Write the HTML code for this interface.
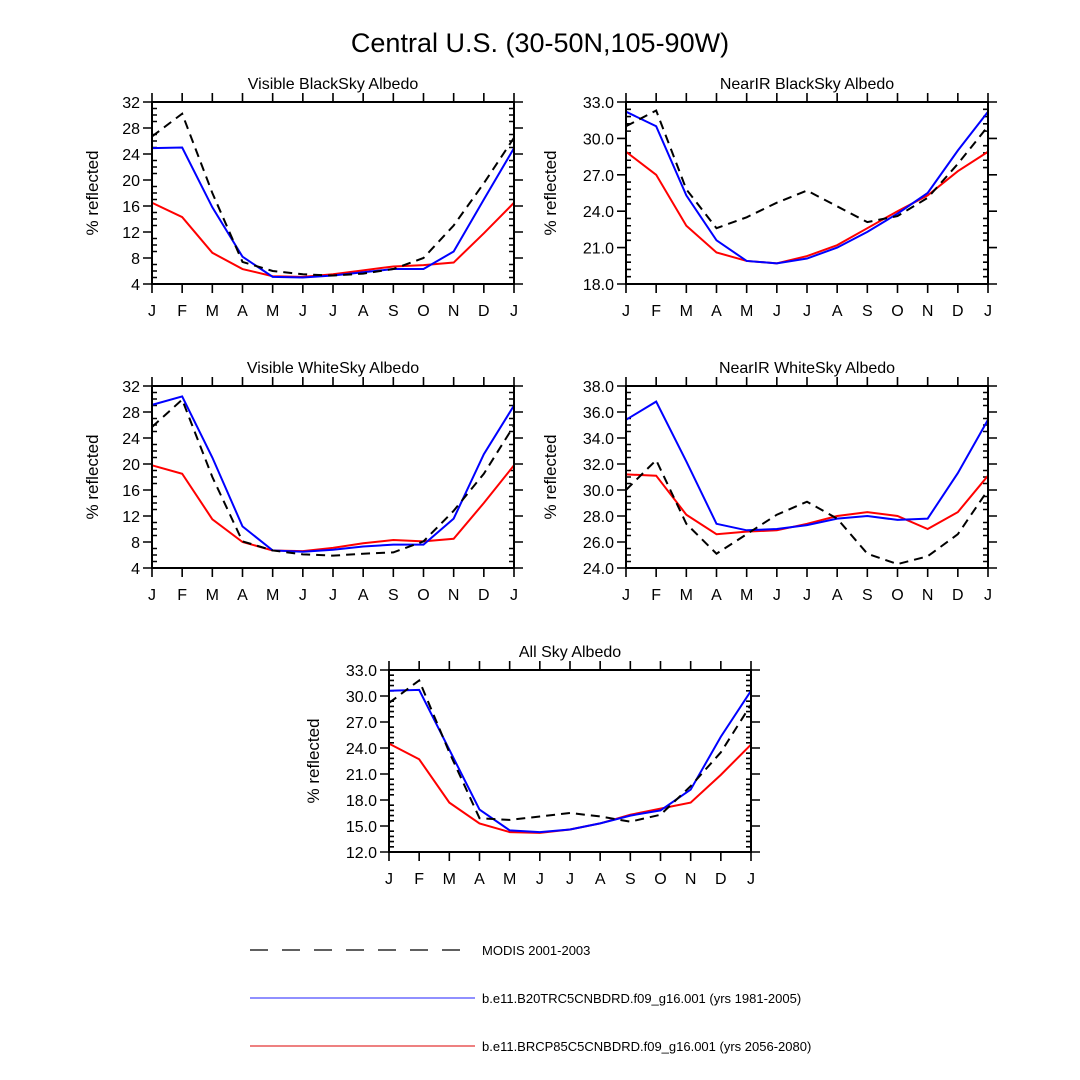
<!DOCTYPE html>
<html><head><meta charset="utf-8"><style>
body{margin:0;background:#fff}
svg{display:block;font-family:"Liberation Sans",sans-serif}
</style></head><body>
<svg id="c" width="1080" height="1080" viewBox="0 0 1080 1080">
<rect width="1080" height="1080" fill="#fff"/>
<text x="540" y="52" font-size="27" text-anchor="middle">Central U.S. (30-50N,105-90W)</text>
<g>
<line x1="250" y1="950" x2="462" y2="950" stroke="#000" stroke-width="1.3" stroke-dasharray="18,14"/>
<text x="482" y="955" font-size="13">MODIS 2001-2003</text>
<line x1="250" y1="998" x2="475" y2="998" stroke="#6b6bff" stroke-width="1.5"/>
<text x="482" y="1003" font-size="13">b.e11.B20TRC5CNBDRD.f09_g16.001 (yrs 1981-2005)</text>
<line x1="250" y1="1046" x2="475" y2="1046" stroke="#d00" stroke-width="1"/>
<text x="482" y="1051" font-size="13">b.e11.BRCP85C5CNBDRD.f09_g16.001 (yrs 2056-2080)</text>
</g>
</svg>
<script>
const months = ["J","F","M","A","M","J","J","A","S","O","N","D","J"];
const visBlackModis = [26.7,30.2,18,7.4,6,5.5,5.3,5.6,6.3,8,13,19.5,26.5];
const visBlackB20 = [24.9,25,15.8,8.2,5.1,5.0,5.3,5.8,6.3,6.3,9,17,24.9];
const visBlackRcp = [16.5,14.3,8.8,6.3,5.2,5.1,5.5,6.1,6.7,6.9,7.3,11.8,16.5];
const nirBlackModis = [31.0,32.3,25.8,22.6,23.5,24.7,25.7,24.4,23.1,23.6,25.1,27.9,31.0];
const nirBlackB20 = [32.2,31.0,25.3,21.6,19.9,19.7,20.1,21.0,22.3,23.8,25.5,29.0,32.2];
const nirBlackRcp = [28.9,27.0,22.8,20.6,19.9,19.7,20.3,21.2,22.6,24.0,25.3,27.3,28.9];
const visWhiteModis = [25.7,29.9,18,8.1,6.7,6.1,5.9,6.2,6.4,8.1,12.8,18.5,25.9];
const visWhiteB20 = [29.1,30.4,21,10.4,6.7,6.5,6.8,7.3,7.6,7.6,11.6,21.5,29.0];
const visWhiteRcp = [19.8,18.5,11.5,8.0,6.7,6.6,7.1,7.8,8.3,8.1,8.5,14,19.8];
const nirWhiteModis = [30.0,32.3,27.4,25.1,26.6,28.1,29.1,27.8,25.1,24.3,24.9,26.6,30.0];
const nirWhiteB20 = [35.4,36.8,32.2,27.4,26.9,27.0,27.3,27.8,28.0,27.7,27.8,31.3,35.4];
const nirWhiteRcp = [31.2,31.1,28.1,26.6,26.8,26.9,27.4,28.0,28.3,28.0,27.0,28.3,31.1];
const allModis = [29.2,31.8,23.5,15.9,15.7,16.1,16.5,16.1,15.5,16.3,19.6,23.5,29.0];
const allB20 = [30.6,30.7,23.8,16.9,14.5,14.3,14.6,15.3,16.2,16.8,19.2,25.3,30.6];
const allRcp = [24.5,22.7,17.7,15.3,14.3,14.2,14.6,15.3,16.3,17.0,17.7,20.9,24.4];
const ticksA = [4,8,12,16,20,24,28,32];
const ticksB = [18,21,24,27,30,33];
const ticksC = [24,26,28,30,32,34,36,38];
const ticksD = [12,15,18,21,24,27,30,33];

const NS="http://www.w3.org/2000/svg";
const svg=document.getElementById('c');
function mk(tag,attrs,parent){const e=document.createElementNS(NS,tag);for(const k in attrs)e.setAttribute(k,attrs[k]);(parent||svg).appendChild(e);return e;}

function panel(name,title,x0,y0,ticks,dec,minorN,modis,b20,rcp){
  const W=362,H=182,x1=x0+W,y1=y0+H;
  const g=mk('g',{});
  
  
  const lo=ticks[0],hi=ticks[ticks.length-1];
  const sx=i=>x0+i*W/(months.length-1);
  const sy=v=>y1-(v-lo)*H/(hi-lo);
  const t=mk('text',{x:(x0+x1)/2,y:y0-13,'font-size':16,'text-anchor':'middle'},g);
  t.textContent=title;
  
  
  const off=dec?76:60;
  const yt=mk('text',{x:0,y:0,'font-size':17,'text-anchor':'middle',transform:`translate(${x0-off+6},${(y0+y1)/2}) rotate(-90)`},g);
  yt.textContent='% reflected';
  
  
  let d='';
  const step=ticks[1]-ticks[0];
  ticks.forEach((v,k)=>{
    const y=sy(v);
    d+=`M${x0-9},${y}H${x0}M${x1},${y}H${x1+9}`;
    const l=mk('text',{x:x0-12,y:y+6,'font-size':16,'text-anchor':'end'},g);
    l.textContent=v.toFixed(dec);
    
    
    if(k<ticks.length-1){for(let m=1;m<=minorN;m++){const yy=sy(v+step*m/(minorN+1));d+=`M${x0},${yy}H${x0+5}M${x1},${yy}H${x1-5}`;}}
  });
  months.forEach((m,i)=>{
    const x=sx(i);
    d+=`M${x},${y1}V${y1+9}M${x},${y0}V${y0-9}`;
    const l=mk('text',{x:x,y:y1+32,'font-size':16,'text-anchor':'middle'},g);
    l.textContent=m;
    
    
  });
  const tk=mk('path',{d:d,stroke:'#000','stroke-width':1.6,fill:'none'},g);
  
  
  const series=[[rcp,'#f00','none','rcp85-line'],[b20,'#00f','none','b20tr-line'],[modis,'#000','9,6','modis-line']];
  series.forEach(s=>{
    const p=mk('polyline',{points:s[0].map((v,i)=>sx(i)+','+sy(v)).join(' '),fill:'none',stroke:s[1],'stroke-width':2,'stroke-dasharray':s[2]},g);
    
    
  });
  const fr=mk('rect',{x:x0,y:y0,width:W,height:H,fill:'none',stroke:'#000','stroke-width':2},g);
  
  
}
panel('visible-blacksky-panel','Visible BlackSky Albedo',152,102,ticksA,0,3,visBlackModis,visBlackB20,visBlackRcp);
panel('nearir-blacksky-panel','NearIR BlackSky Albedo',626,102,ticksB,1,4,nirBlackModis,nirBlackB20,nirBlackRcp);
panel('visible-whitesky-panel','Visible WhiteSky Albedo',152,386,ticksA,0,3,visWhiteModis,visWhiteB20,visWhiteRcp);
panel('nearir-whitesky-panel','NearIR WhiteSky Albedo',626,386,ticksC,1,3,nirWhiteModis,nirWhiteB20,nirWhiteRcp);
panel('allsky-panel','All Sky Albedo',389,670,ticksD,1,4,allModis,allB20,allRcp);
</script>
</body></html>
